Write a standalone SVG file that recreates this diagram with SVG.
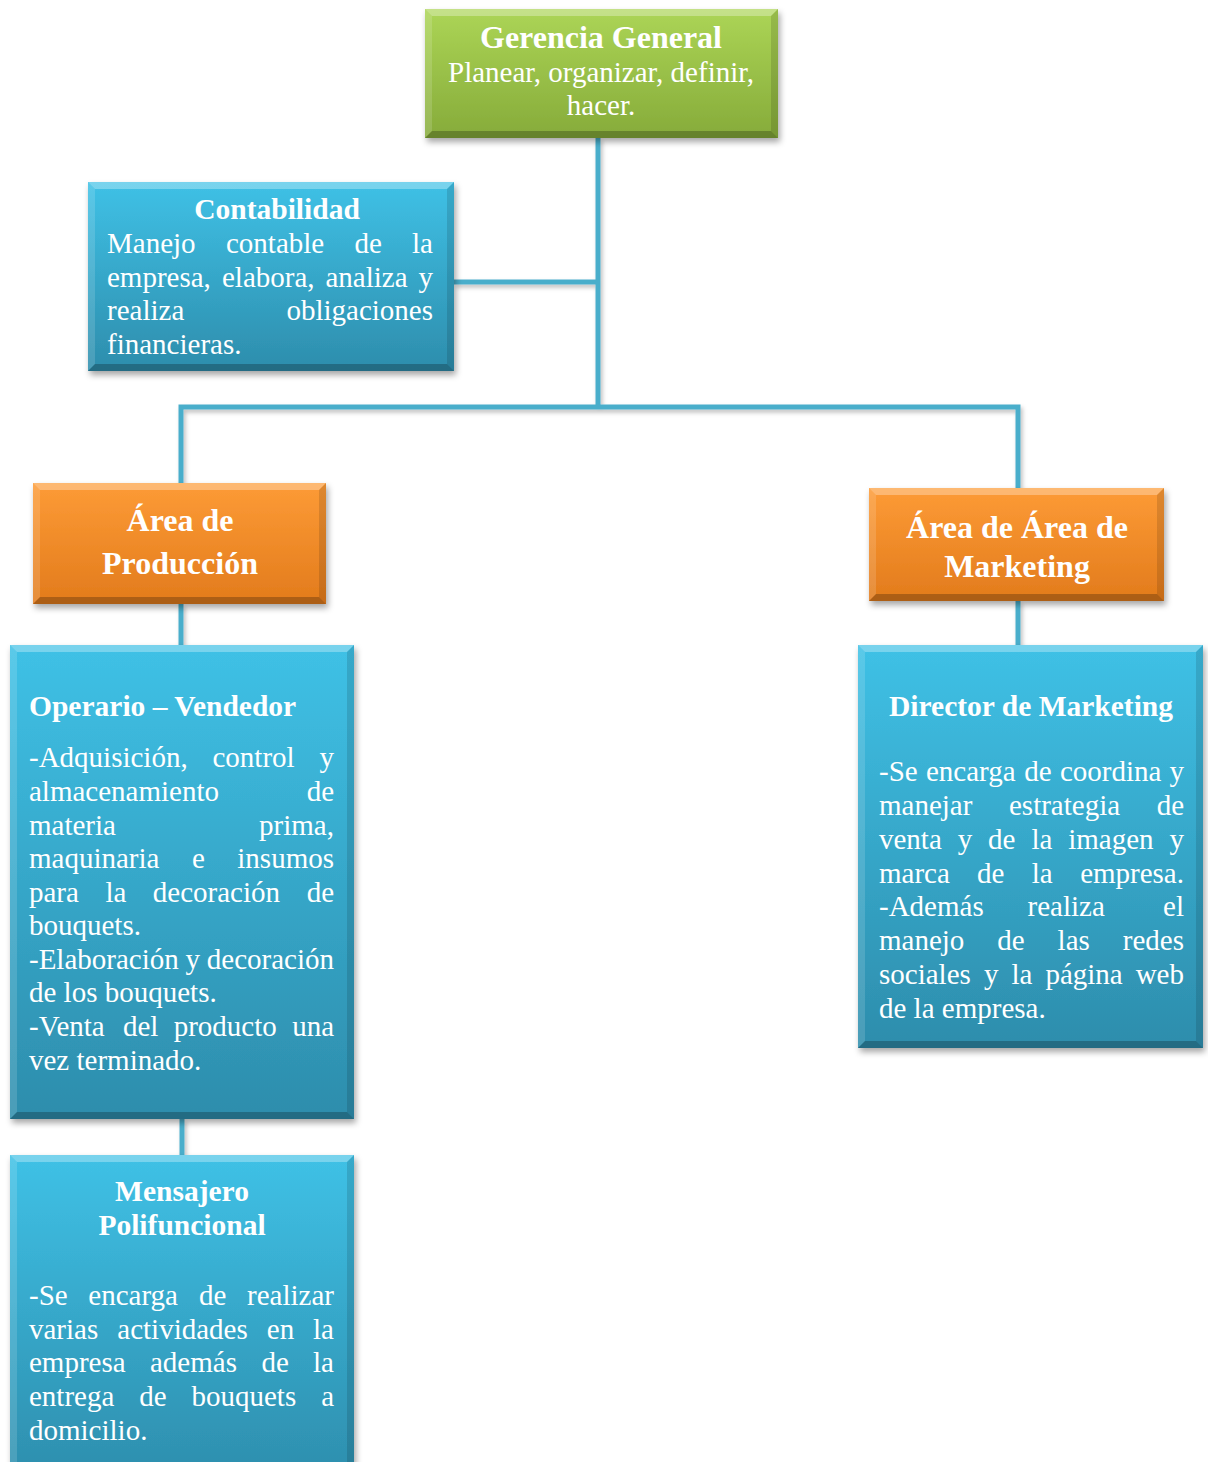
<svg xmlns="http://www.w3.org/2000/svg" width="1208" height="1462" viewBox="0 0 1208 1462">
  <style>
    .ttl { font-family: "Liberation Serif", "Times New Roman", serif; font-weight: bold; font-size: 29.5px; fill: #ffffff; }
    .bd  { font-family: "Liberation Serif", "Times New Roman", serif; font-size: 29px; fill: #ffffff; }
    .big { font-size: 32px; }
    .m { text-anchor: middle; }
    .e { text-anchor: end; }
    .hi { fill: #ffffff; fill-opacity: 0.30; }
    .hi2 { fill: #ffffff; fill-opacity: 0.14; }
    .lo { fill: #000000; fill-opacity: 0.12; }
    .lo2 { fill: #000000; fill-opacity: 0.24; }
    .wire { fill: none; stroke: #4aaecb; stroke-width: 5; }
  </style>
  <defs>
    <linearGradient id="gGreen" x1="0" y1="0" x2="0" y2="1">
      <stop offset="0" stop-color="#acd556"/>
      <stop offset="1" stop-color="#86ab3a"/>
    </linearGradient>
    <linearGradient id="gOrange" x1="0" y1="0" x2="0" y2="1">
      <stop offset="0" stop-color="#fd9b36"/>
      <stop offset="1" stop-color="#e27b1c"/>
    </linearGradient>
    <linearGradient id="gBlue" x1="0" y1="0" x2="0" y2="1">
      <stop offset="0" stop-color="#3fc1e6"/>
      <stop offset="1" stop-color="#2d8dac"/>
    </linearGradient>
    <filter id="shadow" x="-10%" y="-10%" width="120%" height="125%">
      <feDropShadow dx="2" dy="4" stdDeviation="3" flood-color="#000000" flood-opacity="0.35"/>
    </filter>
    <filter id="wshadow" x="-20%" y="-20%" width="140%" height="140%">
      <feDropShadow dx="2" dy="3" stdDeviation="2" flood-color="#000000" flood-opacity="0.25"/>
    </filter>
  </defs>

  <rect width="1208" height="1462" fill="#ffffff"/>

  <!-- organisation lines -->
  <g id="connectors" filter="url(#wshadow)">
    <path class="wire" d="M598,138 V407"/>
    <path class="wire" d="M454,282 H598"/>
    <path class="wire" d="M181,483 V407 H1018 V488"/>
    <path class="wire" d="M181,604 V645"/>
    <path class="wire" d="M1018,601 V645"/>
    <path class="wire" d="M182,1119 V1155"/>
  </g>

  <!-- Gerencia General -->
  <g id="gerencia">
    <rect x="425" y="9" width="353" height="129" fill="url(#gGreen)" filter="url(#shadow)"/>
    <polygon class="hi" points="425,9 778,9 771,16 432,16"/>
    <polygon class="hi2" points="425,9 432,16 432,131 425,138"/>
    <polygon class="lo" points="778,9 778,138 771,131 771,16"/>
    <polygon class="lo2" points="425,138 778,138 771,131 432,131"/>
    <text class="ttl big m" x="601" y="48">Gerencia General</text>
    <text class="bd m" x="601" y="82">Planear, organizar, definir,</text>
    <text class="bd m" x="601" y="115">hacer.</text>
  </g>

  <!-- Contabilidad -->
  <g id="contabilidad">
    <rect x="88" y="182" width="366" height="189" fill="url(#gBlue)" filter="url(#shadow)"/>
    <polygon class="hi" points="88,182 454,182 447,189 95,189"/>
    <polygon class="hi2" points="88,182 95,189 95,364 88,371"/>
    <polygon class="lo" points="454,182 454,371 447,364 447,189"/>
    <polygon class="lo2" points="88,371 454,371 447,364 95,364"/>
    <text class="ttl m" x="277" y="219">Contabilidad</text>
    <text class="bd" x="107" y="253">Manejo</text>
    <text class="bd" x="226" y="253">contable</text>
    <text class="bd" x="354.5" y="253">de</text>
    <text class="bd e" x="433" y="253">la</text>
    <text class="bd" x="107" y="287">empresa,</text>
    <text class="bd" x="222" y="287">elabora,</text>
    <text class="bd" x="325.5" y="287">analiza</text>
    <text class="bd e" x="433" y="287">y</text>
    <text class="bd" x="107" y="320">realiza</text>
    <text class="bd e" x="433" y="320">obligaciones</text>
    <text class="bd" x="107" y="354">financieras.</text>
  </g>

  <!-- Área de Producción -->
  <g id="area-produccion">
    <rect x="33" y="483" width="293" height="121" fill="url(#gOrange)" filter="url(#shadow)"/>
    <polygon class="hi" points="33,483 326,483 319,490 40,490"/>
    <polygon class="hi2" points="33,483 40,490 40,597 33,604"/>
    <polygon class="lo" points="326,483 326,604 319,597 319,490"/>
    <polygon class="lo2" points="33,604 326,604 319,597 40,597"/>
    <text class="ttl big m" x="180" y="531">Área de</text>
    <text class="ttl big m" x="180" y="574">Producción</text>
  </g>

  <!-- Área de Marketing -->
  <g id="area-marketing">
    <rect x="869" y="488" width="295" height="113" fill="url(#gOrange)" filter="url(#shadow)"/>
    <polygon class="hi" points="869,488 1164,488 1157,495 876,495"/>
    <polygon class="hi2" points="869,488 876,495 876,594 869,601"/>
    <polygon class="lo" points="1164,488 1164,601 1157,594 1157,495"/>
    <polygon class="lo2" points="869,601 1164,601 1157,594 876,594"/>
    <text class="ttl big m" x="1017" y="538">Área de Área de</text>
    <text class="ttl big m" x="1017" y="577">Marketing</text>
  </g>

  <!-- Operario – Vendedor -->
  <g id="operario-vendedor">
    <rect x="10" y="645" width="344" height="474" fill="url(#gBlue)" filter="url(#shadow)"/>
    <polygon class="hi" points="10,645 354,645 347,652 17,652"/>
    <polygon class="hi2" points="10,645 17,652 17,1112 10,1119"/>
    <polygon class="lo" points="354,645 354,1119 347,1112 347,652"/>
    <polygon class="lo2" points="10,1119 354,1119 347,1112 17,1112"/>
    <text class="ttl" x="29" y="716">Operario – Vendedor</text>
    <text class="bd" x="29" y="767">-Adquisición,</text>
    <text class="bd" x="212.5" y="767">control</text>
    <text class="bd e" x="334" y="767">y</text>
    <text class="bd" x="29" y="801">almacenamiento</text>
    <text class="bd e" x="334" y="801">de</text>
    <text class="bd" x="29" y="835">materia</text>
    <text class="bd e" x="334" y="835">prima,</text>
    <text class="bd" x="29" y="868">maquinaria</text>
    <text class="bd" x="192" y="868">e</text>
    <text class="bd e" x="334" y="868">insumos</text>
    <text class="bd" x="29" y="902">para</text>
    <text class="bd" x="105.4" y="902">la</text>
    <text class="bd" x="152.8" y="902">decoración</text>
    <text class="bd e" x="334" y="902">de</text>
    <text class="bd" x="29" y="935">bouquets.</text>
    <text class="bd" x="29" y="969">-Elaboración</text>
    <text class="bd" x="185.5" y="969">y</text>
    <text class="bd e" x="334" y="969">decoración</text>
    <text class="bd" x="29" y="1002">de los bouquets.</text>
    <text class="bd" x="29" y="1036">-Venta</text>
    <text class="bd" x="123" y="1036">del</text>
    <text class="bd" x="173.7" y="1036">producto</text>
    <text class="bd e" x="334" y="1036">una</text>
    <text class="bd" x="29" y="1070">vez terminado.</text>
  </g>

  <!-- Director de Marketing -->
  <g id="director-marketing">
    <rect x="858" y="645" width="345" height="403" fill="url(#gBlue)" filter="url(#shadow)"/>
    <polygon class="hi" points="858,645 1203,645 1196,652 865,652"/>
    <polygon class="hi2" points="858,645 865,652 865,1041 858,1048"/>
    <polygon class="lo" points="1203,645 1203,1048 1196,1041 1196,652"/>
    <polygon class="lo2" points="858,1048 1203,1048 1196,1041 865,1041"/>
    <text class="ttl m" x="1031" y="716">Director de Marketing</text>
    <text class="bd" x="879" y="781">-Se</text>
    <text class="bd" x="925.9" y="781">encarga</text>
    <text class="bd" x="1024.3" y="781">de</text>
    <text class="bd" x="1059.9" y="781">coordina</text>
    <text class="bd e" x="1184" y="781">y</text>
    <text class="bd" x="879" y="815">manejar</text>
    <text class="bd" x="1009" y="815">estrategia</text>
    <text class="bd e" x="1184" y="815">de</text>
    <text class="bd" x="879" y="849">venta</text>
    <text class="bd" x="957.7" y="849">y</text>
    <text class="bd" x="988.1" y="849">de</text>
    <text class="bd" x="1031.4" y="849">la</text>
    <text class="bd" x="1068.2" y="849">imagen</text>
    <text class="bd e" x="1184" y="849">y</text>
    <text class="bd" x="879" y="883">marca</text>
    <text class="bd" x="977.1" y="883">de</text>
    <text class="bd" x="1031.8" y="883">la</text>
    <text class="bd e" x="1184" y="883">empresa.</text>
    <text class="bd" x="879" y="916">-Además</text>
    <text class="bd" x="1027.5" y="916">realiza</text>
    <text class="bd e" x="1184" y="916">el</text>
    <text class="bd" x="879" y="950">manejo</text>
    <text class="bd" x="997.3" y="950">de</text>
    <text class="bd" x="1057.6" y="950">las</text>
    <text class="bd e" x="1184" y="950">redes</text>
    <text class="bd" x="879" y="984">sociales</text>
    <text class="bd" x="983.9" y="984">y</text>
    <text class="bd" x="1011.4" y="984">la</text>
    <text class="bd" x="1045.4" y="984">página</text>
    <text class="bd e" x="1184" y="984">web</text>
    <text class="bd" x="879" y="1018">de la empresa.</text>
  </g>

  <!-- Mensajero Polifuncional -->
  <g id="mensajero-polifuncional">
    <rect x="10" y="1155" width="344" height="330" fill="url(#gBlue)" filter="url(#shadow)"/>
    <polygon class="hi" points="10,1155 354,1155 347,1162 17,1162"/>
    <polygon class="hi2" points="10,1155 17,1162 17,1485 10,1485"/>
    <polygon class="lo" points="354,1155 354,1485 347,1485 347,1162"/>
    <text class="ttl m" x="182" y="1201">Mensajero</text>
    <text class="ttl m" x="182" y="1235">Polifuncional</text>
    <text class="bd" x="29" y="1305">-Se</text>
    <text class="bd" x="88.3" y="1305">encarga</text>
    <text class="bd" x="199" y="1305">de</text>
    <text class="bd e" x="334" y="1305">realizar</text>
    <text class="bd" x="29" y="1339">varias</text>
    <text class="bd" x="117.3" y="1339">actividades</text>
    <text class="bd" x="266.8" y="1339">en</text>
    <text class="bd e" x="334" y="1339">la</text>
    <text class="bd" x="29" y="1372">empresa</text>
    <text class="bd" x="150" y="1372">además</text>
    <text class="bd" x="261.4" y="1372">de</text>
    <text class="bd e" x="334" y="1372">la</text>
    <text class="bd" x="29" y="1406">entrega</text>
    <text class="bd" x="139.2" y="1406">de</text>
    <text class="bd" x="191.5" y="1406">bouquets</text>
    <text class="bd e" x="334" y="1406">a</text>
    <text class="bd" x="29" y="1440">domicilio.</text>
  </g>
</svg>
